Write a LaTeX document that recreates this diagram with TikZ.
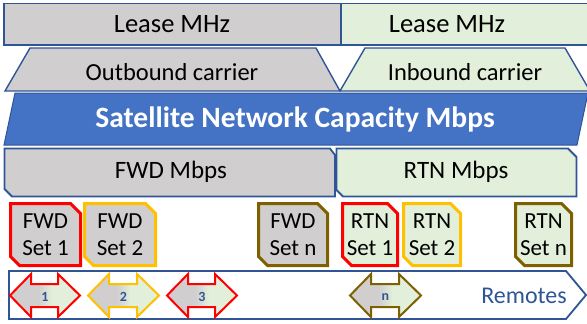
\documentclass[tikz,border=0pt]{standalone}
\usepackage{fontspec}
\setmainfont{Carlito}
\definecolor{graybox}{HTML}{D0CECE}
\definecolor{greenbox}{HTML}{E2EFDA}
\definecolor{bluefill}{HTML}{4472C4}
\definecolor{edgeblue}{HTML}{2F5597}
\definecolor{setred}{HTML}{FF0000}
\definecolor{setyel}{HTML}{FFC000}
\definecolor{setbrn}{HTML}{7F6000}
\pgfdeclarehorizontalshading{graygreen}{100bp}{color(0bp)=(graybox); color(45bp)=(graybox); color(55bp)=(greenbox); color(100bp)=(greenbox)}
\tikzset{
  bx/.style={draw=edgeblue, line width=1.8pt, line join=miter},
  lbl/.style={inner sep=0pt, text=black},
  setframe/.style={line width=3pt, line join=miter},
  setlbl/.style={inner sep=0pt, align=center, font=\fontsize{23}{27}\selectfont},
  dblarr/.style={line width=2pt, line join=miter, shading=graygreen},
  numlbl/.style={inner sep=0pt, text=edgeblue, font=\bfseries\fontsize{14}{14}\selectfont}
}
% snipped box: #1 x-left, #2 x-right, #3 fill, #4 draw, #5 name, #6 text
\newcommand\snipbox[6]{%
  \draw[setframe, fill=#3, draw=#4] (#1,203.5) -- ({#2-10},203.5) -- (#2,213.5) -- (#2,265.5) -- ({#1+9},265.5) -- (#1,256.5) -- cycle;
  \node[setlbl] (#5) at ({(#1+#2)/2},235) {#6};}
% double arrow: #1 left tip, #2 right tip, #3 colour, #4 name, #5 label
\newcommand\dblarrow[5]{%
  \path[dblarr, draw=#3] (#1,295.5) -- ({#1+21},274) -- ({#1+21},284) -- ({#2-22},284) -- ({#2-22},274) -- (#2,295.5) -- ({#2-22},317) -- ({#2-22},307) -- ({#1+21},307) -- ({#1+21},317) -- cycle;
  \node[numlbl] (#4) at ({(#1+#2)/2},297) {#5};}
\begin{document}
\begin{tikzpicture}[x=1pt,y=-1pt]
\useasboundingbox (0,0) rectangle (587,324);
\clip (0,0) rectangle (587,324);
% row 1: lease
\draw[bx, fill=graybox] (4,3.5) rectangle (341,45);
\draw[bx, fill=greenbox] (341,3.5) rectangle (595,45);
\node[lbl, font=\fontsize{26.5}{26.5}\selectfont] (leasefwd) at (172,24) {Lease MHz};
\node[lbl, font=\fontsize{26.5}{26.5}\selectfont] (leasertn) at (447,24) {Lease MHz};
% row 2: carriers
\draw[bx, line width=1.4pt, fill=graybox] (30,48) -- (316,48) -- (340,91) -- (5,91) -- cycle;
\draw[bx, line width=1.4pt, fill=greenbox] (365,48) -- (565,48) -- (590,91) -- (340,91) -- cycle;
\node[lbl, font=\fontsize{24.5}{24.5}\selectfont] (outb) at (172,72) {Outbound carrier};
\node[lbl, font=\fontsize{24.5}{24.5}\selectfont] (inb) at (465,72) {Inbound carrier};
% row 3: capacity
\draw[draw=edgeblue, line width=1pt, fill=bluefill] (15,93) -- (588,93) -- (577,145) -- (4,145) -- cycle;
\node[lbl, text=white, font=\bfseries\fontsize{29.5}{29.5}\selectfont] (cap) at (295,119) {Satellite Network Capacity Mbps};
% row 4: FWD / RTN Mbps
\draw[bx, fill=graybox] (4.5,148.5) -- (330,148.5) -- (335,155) -- (335,196.5) -- (12,196.5) -- (4.5,189) -- cycle;
\draw[bx, fill=greenbox] (336.5,148.5) -- (568,148.5) -- (576.5,157) -- (576.5,196.5) -- (343,196.5) -- (336.5,190) -- cycle;
\node[lbl, font=\fontsize{25}{25}\selectfont] (fwdm) at (171,172) {FWD Mbps};
\node[lbl, font=\fontsize{25}{25}\selectfont] (rtnm) at (456,172) {RTN Mbps};
% row 5: sets
\snipbox{10.5}{80.5}{graybox}{setred}{fwd1}{FWD\\Set 1}
\snipbox{84.5}{155.5}{graybox}{setyel}{fwd2}{FWD\\Set 2}
\snipbox{258.5}{327.5}{graybox}{setbrn}{fwdn}{FWD\\Set n}
\snipbox{342.5}{397.5}{greenbox}{setred}{rtn1}{RTN\\Set 1}
\snipbox{403.5}{460.5}{greenbox}{setyel}{rtn2}{RTN\\Set 2}
\snipbox{515.5}{571.5}{greenbox}{setbrn}{rtnn}{RTN\\Set n}
% row 6: remotes
\draw[bx, fill=white] (9,271) -- (566,271) -- (586,295) -- (566,319) -- (9,319) -- cycle;
\node[lbl, text=edgeblue, font=\fontsize{24}{24}\selectfont] (rem) at (524,296) {Remotes};
\dblarrow{10}{80}{setred}{a1}{1}
\dblarrow{88}{159}{setyel}{a2}{2}
\dblarrow{167}{237}{setred}{a3}{3}
\dblarrow{350}{421}{setbrn}{an}{n}
\end{tikzpicture}
\end{document}
